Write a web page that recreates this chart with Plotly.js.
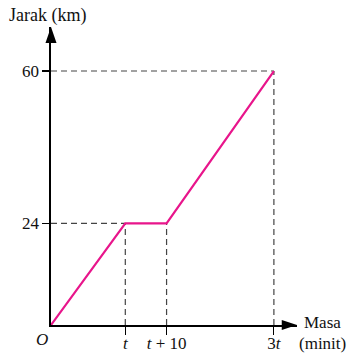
<!DOCTYPE html>
<html><head><meta charset="utf-8">
<script src="https://cdn.plot.ly/plotly-3.0.1.min.js"></script>
<style>body{margin:0;background:#fff}#c{width:349px;height:353px}</style>
</head><body><div id="c"></div>
<script>
const times = [0, 18, 28, 54];
const distances = [0, 24, 24, 60];
const xTickVals = [18, 28, 54];
const xTickText = ['<i>t</i>', '<i>t</i> + 10', '3<i>t</i>'];
const yTickVals = [24, 60];
const yTickText = ['24', '60'];

const serif = 'Liberation Serif, Times New Roman, serif';
const dashStyle = {color: '#444', width: 1.2, dash: '6px,4px'};
const traces = [];
// horizontal guides
[[0, times[1], distances[1]], [0, times[3], distances[3]]].forEach(g => {
  traces.push({x: [g[0], g[1]], y: [g[2], g[2]], mode: 'lines', line: dashStyle, hoverinfo: 'skip'});
});
// vertical guides
[1, 2, 3].forEach(i => {
  traces.push({x: [times[i], times[i]], y: [0, distances[i]], mode: 'lines', line: dashStyle, hoverinfo: 'skip'});
});
traces.push({x: times, y: distances, mode: 'lines', line: {color: '#e8158b', width: 2.2}, hoverinfo: 'skip'});

const layout = {
  width: 349, height: 353,
  margin: {l: 51, r: 52, t: 27, b: 28},
  showlegend: false,
  paper_bgcolor: '#fff', plot_bgcolor: '#fff',
  font: {family: serif, size: 17, color: '#111'},
  xaxis: {range: [0, 59.6], showgrid: false, zeroline: false, showline: true, linecolor: '#000', linewidth: 1.6,
    tickvals: xTickVals, ticktext: xTickText, ticks: 'outside', ticklen: 8, tickcolor: '#000', tickwidth: 1.2,
    ticklabelstandoff: -6,
    tickfont: {family: serif, size: 17, color: '#111'}, fixedrange: true},
  yaxis: {range: [0, 70.4], showgrid: false, zeroline: false, showline: true, linecolor: '#000', linewidth: 1.6,
    tickvals: yTickVals, ticktext: yTickText, ticks: 'outside', ticklen: 7, tickcolor: '#000', tickwidth: 1.2,
    tickfont: {family: serif, size: 17, color: '#111'}, fixedrange: true},
  shapes: [
    {type: 'path', xref: 'paper', yref: 'paper', path: 'M -0.0224 0.9463 L 0 1 L 0.0224 0.9463 Z', fillcolor: '#000', line: {width: 0}},
    {type: 'path', xref: 'paper', yref: 'paper', path: 'M 0.938 0.0168 L 1 0 L 0.938 -0.0168 Z', fillcolor: '#000', line: {width: 0}}
  ],
  annotations: [
    {text: 'Jarak (km)', xref: 'paper', yref: 'paper', x: -0.18, y: 1.037, xanchor: 'left', yanchor: 'middle', showarrow: false, font: {family: serif, size: 18, color: '#111'}},
    {text: 'Masa', xref: 'paper', yref: 'paper', x: 1.02, y: 0.01, xanchor: 'left', yanchor: 'middle', showarrow: false, font: {family: serif, size: 17, color: '#111'}},
    {text: '(minit)', xref: 'paper', yref: 'paper', x: 0.998, y: -0.062, xanchor: 'left', yanchor: 'middle', showarrow: false, font: {family: serif, size: 17, color: '#111'}},
    {text: '<i>O</i>', xref: 'paper', yref: 'paper', x: -0.035, y: -0.05, xanchor: 'center', yanchor: 'middle', showarrow: false, font: {family: serif, size: 17, color: '#111'}}
  ]
};
Plotly.newPlot('c', traces, layout, {displayModeBar: false, staticPlot: true});
</script></body></html>
